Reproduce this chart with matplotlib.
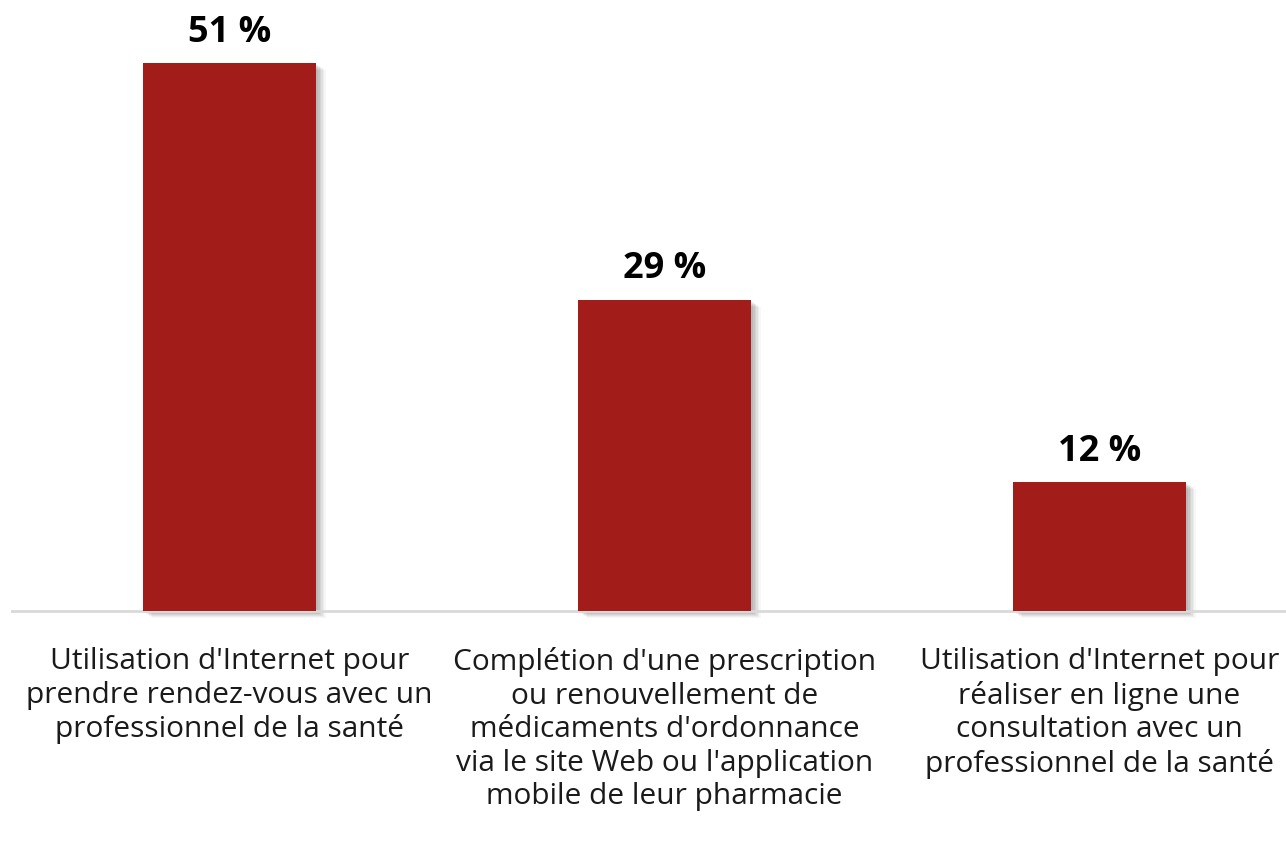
import matplotlib
matplotlib.use("Agg")
import matplotlib.pyplot as plt
from matplotlib.patches import Rectangle

categories = [
    "Utilisation d'Internet pour\nprendre rendez-vous avec un\nprofessionnel de la santé",
    "Complétion d'une prescription\nou renouvellement de\nmédicaments d'ordonnance\nvia le site Web ou l'application\nmobile de leur pharmacie",
    "Utilisation d'Internet pour\nréaliser en ligne une\nconsultation avec un\nprofessionnel de la santé",
]
values = [51, 29, 12]
value_labels = ["51 %", "29 %", "12 %"]

plt.rcParams['font.family'] = ['Open Sans', 'DejaVu Sans']

fig = plt.figure(figsize=(12.86, 8.48), dpi=100)
W, H = 1286, 848
ax = fig.add_axes([12 / W, (H - 611) / H, 1 - 12 / W, (611 - 0) / H])
ax.set_xlim(-0.5, 2.5 - (1317 - 1286) / 435)
ymax = 611 / 10.74
ax.set_ylim(0, ymax)

bar_w = 0.398
color = '#A21C1A'
x = list(range(len(values)))

# soft shadow
for i, v in enumerate(values):
    for k, a in enumerate([0.06, 0.06, 0.06, 0.05, 0.04, 0.03]):
        dx = (2 + k * 1.5) / 435
        dy = (2 + k * 1.0) / 10.74
        ax.add_patch(Rectangle((i - bar_w / 2 + dx, -dy), bar_w, v, color='black',
                               alpha=a, lw=0, zorder=1, clip_on=False))

ax.bar(x, values, width=bar_w, color=color, zorder=3)

for i, (v, lab) in enumerate(zip(values, value_labels)):
    ax.text(i, v + 1.17, lab, ha='center', va='bottom', fontsize=26,
            fontweight='bold', color='black')

for i, cat in enumerate(categories):
    ax.text(i, -3.37, cat, ha='center', va='top', fontsize=21.5, color='#1a1a1a',
            linespacing=1.205)

for s in ['top', 'right', 'left']:
    ax.spines[s].set_visible(False)
ax.spines['bottom'].set_color('#D9D9D9')
ax.spines['bottom'].set_linewidth(2)
ax.spines['bottom'].set_zorder(2)
ax.set_xticks([])
ax.set_yticks([])

fig.savefig('out.png', dpi=100)
